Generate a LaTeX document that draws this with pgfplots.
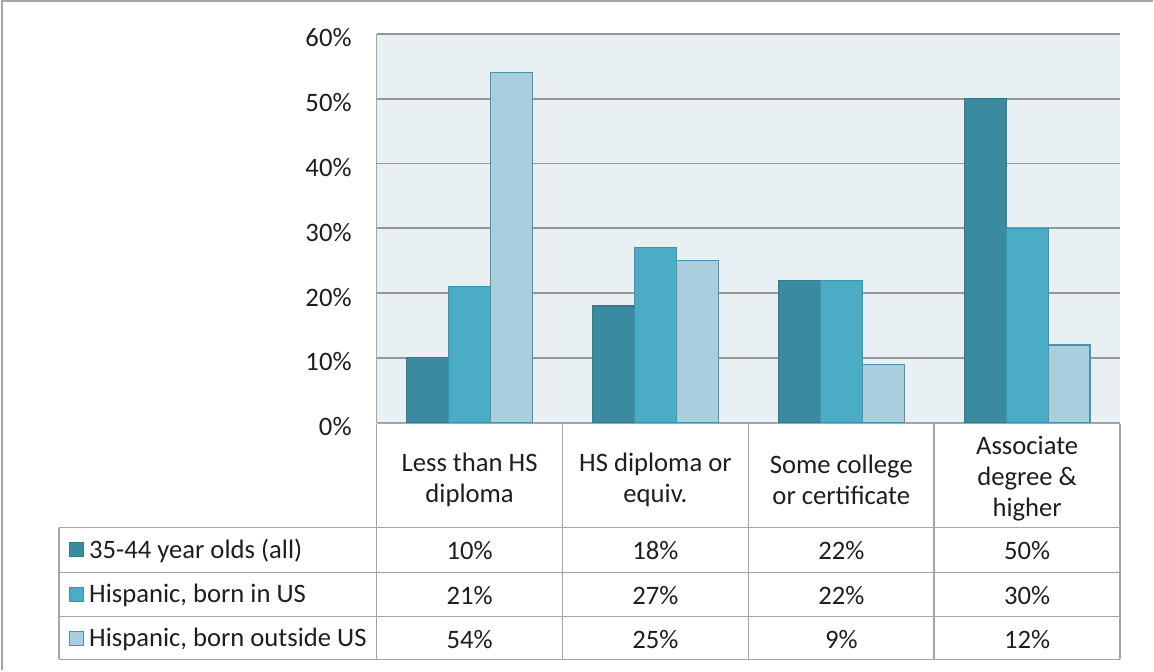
\documentclass[border=0pt]{standalone}
\usepackage{pgfplots}
\pgfplotsset{compat=1.18}
\usepackage{fontspec}
\setmainfont{Carlito}

\definecolor{cA}{RGB}{59,139,160}
\definecolor{cAd}{RGB}{50,122,142}
\definecolor{cB}{RGB}{75,172,198}
\definecolor{cBd}{RGB}{58,148,172}
\definecolor{cC}{RGB}{170,206,222}
\definecolor{cCd}{RGB}{72,148,170}
\definecolor{plotbg}{RGB}{232,240,244}
\definecolor{gridgray}{RGB}{150,150,150}
\definecolor{tablegray}{RGB}{165,165,165}
\definecolor{txt}{RGB}{30,30,30}

\begin{document}
\fontsize{20}{23.5}\selectfont
\begin{tikzpicture}
% page frame, in pixel units (y downwards)
\begin{scope}[x=0.75pt,y=-0.75pt]
\path (0,0) rectangle (1154,671);
\draw[tablegray, line width=1.5pt] (2,671) -- (2,1) -- (1154,1);
\end{scope}

\begin{axis}[
  at={(282.75pt,-317.25pt)}, anchor=south west,
  scale only axis,
  width=558pt, height=291.75pt,
  ybar=0pt, bar width=31.5pt,
  xmin=-0.5, xmax=3.5,
  ymin=0, ymax=60,
  xtick=\empty,
  ytick={0,10,...,60},
  yticklabel={\pgfmathprintnumber[assume math mode=true]{\tick}\%},
  yticklabel style={text=txt, font=\fontsize{20}{24}\selectfont, xshift=-12pt, yshift=-3pt},
  major tick length=0pt,
  axis x line=bottom, axis y line=left,
  axis line style={-, draw=tablegray, line width=1.2pt},
  axis background/.style={fill=plotbg},
  ymajorgrids=true,
  major grid style={draw=gridgray, line width=1.3pt},
  clip=false,
]
\addplot[fill=cA, draw=cAd, line width=0.9pt] coordinates {(0,10) (1,18) (2,22) (3,50)};
\addplot[fill=cB, draw=cBd, line width=0.9pt] coordinates {(0,21) (1,27) (2,22) (3,30)};
\addplot[fill=cC, draw=cCd, line width=0.9pt] coordinates {(0,54) (1,25) (2,9) (3,12)};
\end{axis}

% data table below the axis, in pixel units
\begin{scope}[x=0.75pt,y=-0.75pt]
\draw[tablegray, line width=1.2pt]
  (377,424) -- (1121,424)
  (59,528) -- (1121,528)
  (59,573) -- (1121,573)
  (59,617) -- (1121,617)
  (59,660) -- (1121,660)
  (59,528) -- (59,660)
  (377,424) -- (377,660)
  (563,424) -- (563,660)
  (749,424) -- (749,660)
  (935,424) -- (935,660)
  (1121,424) -- (1121,660);
\begin{scope}[every node/.style={text=txt, align=center, inner sep=0pt}]
\node at (470,480) {Less than HS\\diploma};
\node at (656,480) {HS diploma or\\equiv.};
\node at (842,480) {Some college\\or certificate};
\node at (1028,479) {Associate\\degree \&\\higher};
\foreach \x/\v in {470/10, 656/18, 842/22, 1028/50} \node at (\x,551) {\v\%};
\foreach \x/\v in {470/21, 656/27, 842/22, 1028/30} \node at (\x,596) {\v\%};
\foreach \x/\v in {470/54, 656/25, 842/9, 1028/12} \node at (\x,640) {\v\%};
\node[anchor=west] at (89,551) {35-44 year olds (all)};
\node[anchor=west] at (89,596) {Hispanic, born in US};
\node[anchor=west] at (89,640) {Hispanic, born outside US};
\end{scope}
\draw[fill=cA, draw=cAd, line width=0.8pt] (70,543) rectangle (84,557);
\draw[fill=cB, draw=cBd, line width=0.8pt] (70,588) rectangle (84,602);
\draw[fill=cC, draw=cCd, line width=0.8pt] (70,632) rectangle (84,646);
\end{scope}
\end{tikzpicture}
\end{document}
